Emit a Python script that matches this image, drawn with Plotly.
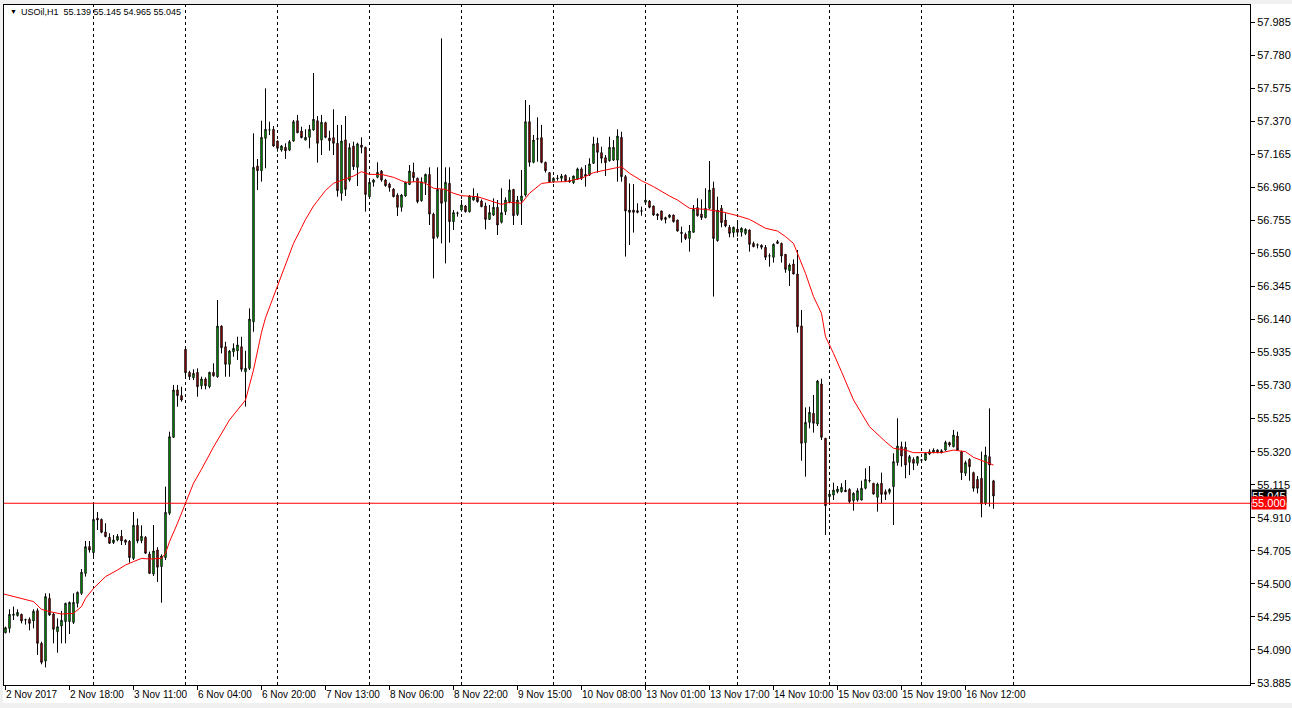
import plotly.graph_objects as go

# ---------------- data ----------------
opens = [54.197, 54.224, 54.305, 54.303, 54.311, 54.278, 54.280, 54.270, 54.334, 54.131,
         54.021, 54.410, 54.313, 54.203, 54.239, 54.266, 54.266, 54.261, 54.379, 54.441,
         54.565, 54.731, 54.694, 54.907, 54.900, 54.822, 54.789, 54.756, 54.772, 54.795,
         54.772, 54.764, 54.658, 54.863, 54.768, 54.789, 54.685, 54.561, 54.710, 54.607,
         54.663, 54.938, 55.409, 55.703, 55.668, 55.955, 55.812, 55.779, 55.812, 55.729,
         55.771, 55.723, 55.812, 55.785, 56.099, 55.971, 55.862, 55.940, 55.946, 55.971,
         55.816, 55.837, 56.126, 57.092, 57.063, 57.264, 57.316, 57.320, 57.247, 57.191,
         57.208, 57.191, 57.247, 57.373, 57.309, 57.253, 57.270, 57.316, 57.373, 57.253,
         57.361, 57.266, 57.268, 57.233, 56.923, 57.254, 57.005, 57.216, 57.084, 57.222,
         57.208, 56.902, 56.991, 57.022, 57.061, 57.005, 56.980, 56.949, 56.912, 56.836,
         56.906, 56.978, 57.053, 57.016, 56.877, 56.989, 57.040, 56.794, 56.654, 56.947,
         56.871, 56.985, 56.747, 56.799, 56.819, 56.844, 56.809, 56.881, 56.898, 56.875,
         56.844, 56.761, 56.788, 56.836, 56.743, 56.809, 56.871, 56.947, 56.792, 56.877,
         56.912, 57.367, 57.115, 57.258, 57.268, 57.115, 57.051, 56.995, 57.014, 57.016,
         57.034, 57.001, 56.989, 57.011, 57.074, 57.040, 57.036, 57.109, 57.233, 57.175,
         57.144, 57.125, 57.129, 57.129, 57.270, 57.026, 56.819, 56.819, 56.815, 56.812,
         56.867, 56.875, 56.844, 56.794, 56.813, 56.772, 56.774, 56.788, 56.757, 56.681,
         56.668, 56.643, 56.681, 56.834, 56.794, 56.772, 56.830, 56.954, 56.629, 56.830,
         56.757, 56.712, 56.679, 56.701, 56.681, 56.674, 56.695, 56.612, 56.601, 56.600,
         56.588, 56.533, 56.526, 56.623, 56.612, 56.544, 56.443, 56.484, 56.422, 56.100,
         55.376, 55.502, 55.558, 55.492, 55.740, 55.403, 55.041, 55.051, 55.072, 55.072,
         55.082, 55.086, 55.016, 55.020, 55.020, 55.093, 55.139, 55.124, 55.037, 55.124,
         55.072, 55.068, 55.103, 55.252, 55.351, 55.347, 55.254, 55.272, 55.248, 55.267,
         55.268, 55.306, 55.316, 55.330, 55.314, 55.330, 55.376, 55.351, 55.417, 55.320,
         55.186, 55.272, 55.190, 55.148, 55.155, 55.000, 55.289, 55.139]
highs = [54.235, 54.342, 54.359, 54.342, 54.315, 54.284, 54.292, 54.342, 54.348, 54.141,
         54.441, 54.441, 54.321, 54.286, 54.332, 54.383, 54.390, 54.441, 54.452, 54.592,
         54.766, 54.766, 55.000, 54.946, 54.905, 54.876, 54.814, 54.803, 54.809, 54.834,
         54.776, 54.772, 54.946, 54.905, 54.863, 54.797, 54.700, 54.865, 54.727, 54.683,
         55.103, 55.444, 55.734, 55.734, 55.723, 55.972, 55.822, 55.831, 55.837, 55.785,
         55.781, 55.816, 55.868, 56.261, 56.104, 56.002, 55.951, 55.992, 56.033, 56.033,
         55.946, 56.209, 57.295, 57.136, 57.373, 57.574, 57.367, 57.340, 57.250, 57.222,
         57.233, 57.253, 57.378, 57.409, 57.336, 57.320, 57.347, 57.669, 57.402, 57.409,
         57.367, 57.311, 57.444, 57.347, 57.347, 57.402, 57.233, 57.243, 57.237, 57.270,
         57.212, 57.001, 57.012, 57.115, 57.067, 57.012, 56.989, 56.954, 56.923, 56.919,
         56.995, 57.098, 57.113, 57.020, 57.022, 57.045, 57.084, 56.803, 57.084, 57.884,
         57.084, 57.084, 56.819, 56.809, 56.881, 56.850, 56.912, 56.954, 56.923, 56.885,
         56.865, 56.850, 56.892, 56.881, 56.954, 56.898, 57.009, 56.950, 56.906, 57.067,
         57.502, 57.471, 57.285, 57.394, 57.347, 57.119, 57.053, 57.022, 57.036, 57.043,
         57.040, 57.022, 57.032, 57.082, 57.084, 57.098, 57.140, 57.274, 57.268, 57.212,
         57.160, 57.274, 57.253, 57.320, 57.305, 57.036, 56.984, 56.980, 56.861, 56.840,
         56.980, 56.881, 56.846, 56.798, 56.815, 56.778, 56.794, 56.790, 56.759, 56.716,
         56.679, 56.726, 56.850, 56.892, 56.885, 56.954, 57.123, 56.995, 56.902, 56.850,
         56.799, 56.726, 56.716, 56.753, 56.712, 56.706, 56.699, 56.623, 56.612, 56.606,
         56.602, 56.550, 56.612, 56.633, 56.617, 56.546, 56.488, 56.513, 56.571, 56.199,
         55.595, 55.599, 55.672, 55.765, 55.773, 55.405, 55.072, 55.128, 55.107, 55.124,
         55.144, 55.093, 55.068, 55.093, 55.140, 55.217, 55.231, 55.126, 55.128, 55.190,
         55.086, 55.093, 55.310, 55.527, 55.382, 55.382, 55.299, 55.285, 55.293, 55.272,
         55.316, 55.335, 55.341, 55.335, 55.335, 55.388, 55.382, 55.455, 55.444, 55.326,
         55.264, 55.279, 55.196, 55.169, 55.320, 55.351, 55.589, 55.145]
lows = [54.193, 54.197, 54.276, 54.297, 54.255, 54.247, 54.212, 54.224, 54.059, 54.001,
        53.982, 54.301, 54.131, 54.073, 54.131, 54.131, 54.189, 54.251, 54.354, 54.431,
        54.545, 54.694, 54.658, 54.834, 54.814, 54.789, 54.747, 54.747, 54.764, 54.741,
        54.741, 54.632, 54.648, 54.752, 54.752, 54.685, 54.561, 54.549, 54.512, 54.383,
        54.648, 54.927, 55.405, 55.599, 55.630, 55.775, 55.765, 55.765, 55.661, 55.707,
        55.707, 55.713, 55.785, 55.779, 55.930, 55.785, 55.785, 55.909, 55.889, 55.816,
        55.600, 55.827, 56.064, 56.943, 56.995, 57.078, 57.284, 57.212, 57.181, 57.181,
        57.136, 57.187, 57.243, 57.295, 57.264, 57.253, 57.202, 57.311, 57.113, 57.160,
        57.264, 57.187, 57.160, 56.902, 56.877, 56.906, 56.995, 57.067, 56.968, 57.171,
        56.809, 56.892, 56.964, 57.016, 56.995, 56.964, 56.933, 56.898, 56.782, 56.809,
        56.902, 56.974, 56.995, 56.861, 56.871, 56.912, 56.726, 56.395, 56.643, 56.612,
        56.488, 56.617, 56.695, 56.778, 56.809, 56.803, 56.803, 56.877, 56.865, 56.836,
        56.699, 56.757, 56.782, 56.664, 56.736, 56.788, 56.861, 56.726, 56.782, 56.726,
        56.902, 57.088, 57.109, 57.119, 57.109, 57.051, 56.989, 56.989, 57.001, 56.995,
        56.995, 56.989, 56.980, 57.005, 57.005, 56.964, 57.030, 57.105, 57.051, 57.109,
        57.030, 57.119, 57.123, 56.995, 56.995, 56.530, 56.602, 56.679, 56.798, 56.784,
        56.854, 56.830, 56.782, 56.757, 56.753, 56.736, 56.768, 56.741, 56.685, 56.617,
        56.633, 56.561, 56.679, 56.778, 56.757, 56.768, 56.823, 56.282, 56.623, 56.712,
        56.712, 56.650, 56.650, 56.654, 56.654, 56.664, 56.561, 56.588, 56.581, 56.575,
        56.509, 56.468, 56.493, 56.608, 56.493, 56.430, 56.348, 56.420, 56.058, 55.264,
        55.165, 55.465, 55.438, 55.479, 55.392, 54.803, 54.999, 55.020, 55.061, 55.066,
        55.070, 55.000, 54.954, 55.010, 55.018, 55.086, 55.128, 55.055, 54.948, 55.000,
        55.020, 55.055, 54.865, 55.233, 55.227, 55.155, 55.175, 55.206, 55.233, 55.258,
        55.262, 55.299, 55.310, 55.310, 55.310, 55.326, 55.351, 55.347, 55.326, 55.144,
        55.169, 55.140, 55.072, 55.062, 54.913, 54.989, 54.979, 54.965]
closes = [54.228, 54.311, 54.311, 54.323, 54.270, 54.276, 54.255, 54.330, 54.131, 54.013,
          54.421, 54.307, 54.218, 54.234, 54.274, 54.379, 54.385, 54.385, 54.448, 54.572,
          54.731, 54.710, 54.900, 54.896, 54.820, 54.793, 54.752, 54.772, 54.795, 54.766,
          54.758, 54.663, 54.863, 54.766, 54.795, 54.690, 54.565, 54.704, 54.603, 54.673,
          54.944, 55.413, 55.703, 55.668, 55.641, 55.810, 55.785, 55.806, 55.723, 55.771,
          55.729, 55.812, 55.791, 56.099, 55.965, 55.862, 55.944, 55.961, 55.982, 55.831,
          55.837, 56.143, 57.084, 57.063, 57.270, 57.320, 57.316, 57.216, 57.202, 57.216,
          57.187, 57.243, 57.367, 57.299, 57.268, 57.270, 57.320, 57.382, 57.233, 57.363,
          57.270, 57.249, 57.233, 56.939, 57.247, 56.947, 57.206, 57.088, 57.229, 57.208,
          56.916, 56.991, 57.005, 57.053, 57.005, 56.970, 56.958, 56.902, 56.836, 56.912,
          56.991, 57.061, 57.020, 56.871, 56.995, 57.040, 56.794, 56.643, 56.947, 56.861,
          56.991, 56.747, 56.803, 56.801, 56.850, 56.809, 56.906, 56.902, 56.871, 56.840,
          56.761, 56.803, 56.836, 56.726, 56.803, 56.881, 56.943, 56.784, 56.881, 56.906,
          57.367, 57.115, 57.253, 57.262, 57.115, 57.063, 56.995, 57.016, 57.016, 57.030,
          57.001, 56.995, 57.030, 57.074, 57.016, 57.030, 57.105, 57.229, 57.177, 57.140,
          57.113, 57.208, 57.208, 57.278, 57.026, 56.813, 56.805, 56.805, 56.805, 56.814,
          56.881, 56.836, 56.788, 56.784, 56.761, 56.761, 56.788, 56.747, 56.689, 56.674,
          56.643, 56.689, 56.823, 56.784, 56.772, 56.830, 56.943, 56.643, 56.819, 56.741,
          56.720, 56.674, 56.712, 56.681, 56.706, 56.699, 56.606, 56.592, 56.603, 56.588,
          56.526, 56.535, 56.606, 56.612, 56.534, 56.451, 56.478, 56.422, 56.095, 55.372,
          55.502, 55.564, 55.496, 55.758, 55.409, 54.985, 55.057, 55.082, 55.088, 55.099,
          55.072, 55.010, 55.062, 55.078, 55.093, 55.148, 55.141, 55.057, 55.119, 55.055,
          55.055, 55.086, 55.258, 55.355, 55.293, 55.237, 55.289, 55.248, 55.289, 55.269,
          55.310, 55.320, 55.330, 55.316, 55.326, 55.378, 55.361, 55.423, 55.330, 55.190,
          55.252, 55.227, 55.093, 55.093, 54.995, 55.299, 55.237, 55.045]
bars = list(range(len(opens)))

# moving average (red line), read at bar positions
ma_bars = [-0.4, 7, 9, 11, 14, 17, 19, 20, 22, 25, 28, 30, 32, 34, 36, 39, 40, 41, 43, 45,
           47, 49, 52, 56, 60, 62, 64, 65, 67, 68, 70, 72, 74, 75, 77, 79, 80, 82, 84, 87,
           89, 90, 91, 94, 97, 99, 100, 103, 105, 107, 110, 112, 114, 118, 121, 124, 126,
           129, 131, 134, 137, 140, 144, 147, 150, 154, 156, 159, 162, 164, 166, 168, 171,
           175, 179, 183, 186, 190, 193, 195, 197, 198, 200, 202, 204, 205, 207, 209, 212,
           214, 216, 220, 222, 225, 227, 230, 234, 237, 240, 242, 245, 247]
ma_vals = [54.437, 54.390, 54.342, 54.328, 54.313, 54.317, 54.359, 54.410, 54.472, 54.545,
           54.586, 54.617, 54.638, 54.658, 54.654, 54.658, 54.690, 54.762, 54.876, 55.000,
           55.124, 55.211, 55.349, 55.517, 55.640, 55.827, 56.060, 56.150, 56.280, 56.343,
           56.480, 56.612, 56.710, 56.760, 56.844, 56.910, 56.940, 56.985, 57.005, 57.030,
           57.057, 57.047, 57.040, 57.040, 57.022, 57.001, 56.991, 56.995, 56.985, 56.954,
           56.947, 56.923, 56.908, 56.902, 56.877, 56.854, 56.867, 56.861, 56.923, 56.984,
           56.993, 56.995, 57.016, 57.051, 57.067, 57.088, 57.047, 57.001, 56.964, 56.933,
           56.906, 56.881, 56.830, 56.823, 56.809, 56.784, 56.761, 56.706, 56.689, 56.654,
           56.612, 56.550, 56.426, 56.282, 56.178, 56.033, 55.930, 55.816, 55.641, 55.558,
           55.475, 55.382, 55.341, 55.330, 55.314, 55.314, 55.314, 55.330, 55.320, 55.285,
           55.254, 55.237]

sep_bars = [22, 45, 68, 91, 114, 137, 160, 183, 206, 229, 252]
label_bars = [0, 16, 32, 48, 64, 80, 96, 112, 128, 144, 160, 176, 192, 208, 224, 240]
label_texts = ["2 Nov 2017", "2 Nov 18:00", "3 Nov 11:00", "6 Nov 04:00", "6 Nov 20:00",
               "7 Nov 13:00", "8 Nov 06:00", "8 Nov 22:00", "9 Nov 15:00", "10 Nov 08:00",
               "13 Nov 01:00", "13 Nov 17:00", "14 Nov 10:00", "15 Nov 03:00",
               "15 Nov 19:00", "16 Nov 12:00"]
price_ticks = [53.885, 54.090, 54.295, 54.500, 54.705, 54.910, 55.115, 55.320, 55.525,
               55.730, 55.935, 56.140, 56.345, 56.550, 56.755, 56.960, 57.165, 57.370,
               57.575, 57.780, 57.985]
price_labels = ["53.885", "54.090", "54.295", "54.500", "54.705", "54.910", "55.115",
                "55.320", "55.525", "55.730", "55.935", "56.140", "56.345", "56.550",
                "56.755", "56.960", "57.165", "57.370", "57.575", "57.780", "57.985"]
level_price = 55.000
last_price = 55.045
title_text = "USOil,H1\u00a0\u00a055.139 55.145 54.965 55.045"

# ---------------- layout geometry ----------------
W, H = 1292, 708
ML, MR, MT, MB = 4, 42, 5, 23
PW, PH = W - ML - MR, H - MT - MB
BAR0_PX, BAR_STEP = 5.5, 4.0          # pixel centre of first bar, pixels per bar
PX_PER_UNIT = 161.2                   # pixels per 1.0 of price
Y_BOTTOM_PRICE = 53.885 - 2 / PX_PER_UNIT
FONT = "Liberation Sans, Arial, sans-serif"


def px_x(px):
    return (px - ML) / PW


def px_y(py):
    return (H - MB - py) / PH


fig = go.Figure()

fig.add_trace(go.Candlestick(
    x=bars, open=opens, high=highs, low=lows, close=closes,
    increasing=dict(line=dict(color="black", width=1), fillcolor="#00FF00"),
    decreasing=dict(line=dict(color="black", width=1), fillcolor="#FF0000"),
    whiskerwidth=0, showlegend=False, hoverinfo="skip",
))

fig.add_trace(go.Scatter(
    x=ma_bars, y=ma_vals, mode="lines",
    line=dict(color="#FF0000", width=1), showlegend=False, hoverinfo="skip",
))

shapes = []
for b in sep_bars:
    shapes.append(dict(type="line", xref="x", yref="paper", x0=b, x1=b, y0=0, y1=1,
                       line=dict(color="black", width=1, dash="3px,3px"), layer="below"))
# horizontal level line
shapes.append(dict(type="line", xref="paper", yref="y", x0=0, x1=1, y0=level_price,
                   y1=level_price, line=dict(color="#FF0000", width=1), layer="above"))
# window borders (grey)
shapes.append(dict(type="rect", xref="paper", yref="paper", x0=px_x(0), x1=px_x(3),
                   y0=px_y(H), y1=px_y(0), fillcolor="#F0F0F0", line=dict(width=0),
                   layer="above"))
shapes.append(dict(type="rect", xref="paper", yref="paper", x0=px_x(0), x1=px_x(W),
                   y0=px_y(4), y1=px_y(0), fillcolor="#F0F0F0", line=dict(width=0),
                   layer="above"))
shapes.append(dict(type="rect", xref="paper", yref="paper", x0=px_x(0), x1=px_x(W),
                   y0=px_y(H), y1=px_y(703), fillcolor="#F0F0F0", line=dict(width=0),
                   layer="above"))

annotations = []
for b, t in zip(label_bars, label_texts):
    annotations.append(dict(x=b, xref="x", y=px_y(694), yref="paper", text=t,
                            showarrow=False, xanchor="left", yanchor="middle", xshift=-2,
                            font=dict(family=FONT, size=10, color="black")))
annotations.append(dict(x=px_x(8), xref="paper", y=px_y(12), yref="paper", text="\u25bc",
                        showarrow=False, xanchor="left", yanchor="middle",
                        font=dict(family=FONT, size=7, color="black")))
annotations.append(dict(x=px_x(19), xref="paper", y=px_y(12), yref="paper", text=title_text,
                        showarrow=False, xanchor="left", yanchor="middle",
                        font=dict(family=FONT, size=9, color="black")))
annotations.append(dict(x=1, xref="paper", y=last_price, yref="y", text=f"{last_price:.3f}",
                        showarrow=False, xanchor="left", yanchor="middle", xshift=1,
                        bgcolor="black", borderpad=0,
                        font=dict(family=FONT, size=11, color="white")))
annotations.append(dict(x=1, xref="paper", y=level_price, yref="y", text=f"{level_price:.3f}",
                        showarrow=False, xanchor="left", yanchor="middle", xshift=1,
                        bgcolor="#FF0000", borderpad=0,
                        font=dict(family=FONT, size=11, color="white")))

x_min = (ML - BAR0_PX) / BAR_STEP
x_max = x_min + PW / BAR_STEP
y_min = Y_BOTTOM_PRICE
y_max = Y_BOTTOM_PRICE + PH / PX_PER_UNIT

fig.update_layout(
    width=W, height=H,
    margin=dict(l=ML, r=MR, t=MT, b=MB, pad=0, autoexpand=False),
    paper_bgcolor="white", plot_bgcolor="white",
    showlegend=False,
    shapes=shapes, annotations=annotations,
    boxgap=0.5,
    xaxis=dict(range=[x_min, x_max], showgrid=False, automargin=False,
               zeroline=False, showline=True, mirror=True, linecolor="black", linewidth=1,
               tickvals=label_bars, ticktext=[""] * len(label_bars), ticks="outside",
               ticklen=4, tickcolor="black", rangeslider=dict(visible=False),
               fixedrange=True),
    yaxis=dict(range=[y_min, y_max], side="right", automargin=False,
               showgrid=False, zeroline=False, showline=True, mirror=True,
               linecolor="black", linewidth=1, tickvals=price_ticks, ticktext=price_labels,
               ticks="outside", ticklen=4, tickcolor="black",
               tickfont=dict(family=FONT, size=11, color="black"), fixedrange=True),
)

# remove the browser's default 8px page margin so the figure fills the window exactly
fig.write_html("out.html", config={"displayModeBar": False},
               post_script="document.body.style.margin='0';"
                           "document.body.style.overflow='hidden';")
